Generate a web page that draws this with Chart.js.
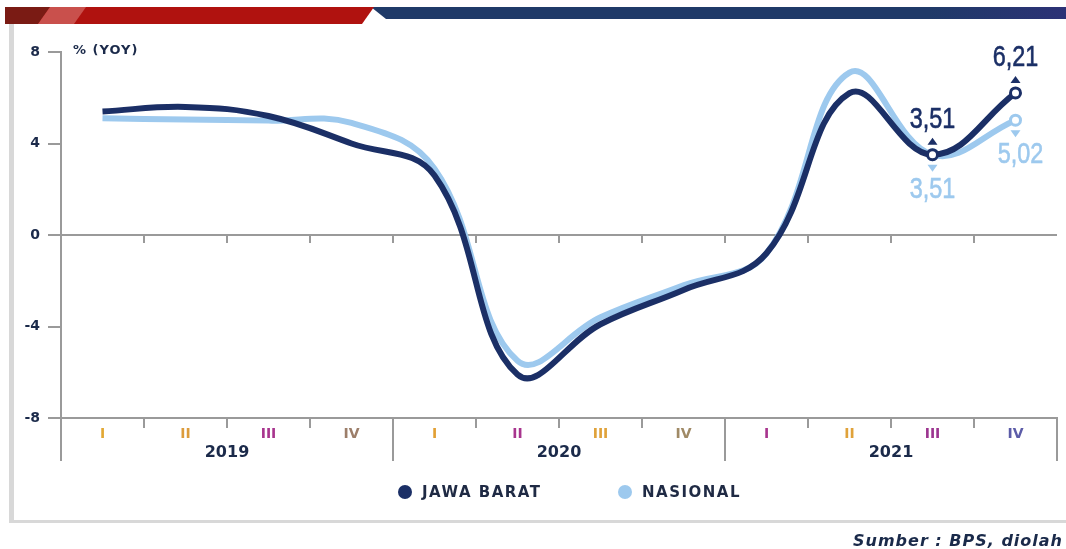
<!DOCTYPE html>
<html>
<head>
<meta charset="utf-8">
<script src="https://cdn.jsdelivr.net/npm/chart.js@4"></script>
<style>
  html, body { margin: 0; padding: 0; background: #fff; }
  #wrap { position: relative; width: 1066px; height: 549px; }
</style>
</head>
<body>
<div id="wrap"><canvas id="growthChart"></canvas></div>
<script>
// data
const quarters = ['I', 'II', 'III', 'IV', 'I', 'II', 'III', 'IV', 'I', 'II', 'III', 'IV'];
const years = ['2019', '2020', '2021'];
const jawaBarat = [5.4, 5.6, 5.2, 4.0, 2.6, -6.1, -3.9, -2.4, -0.8, 6.2, 3.51, 6.21];
const nasional = [5.1, 5.05, 5.0, 4.9, 2.9, -5.5, -3.6, -2.2, -0.8, 7.1, 3.51, 5.02];
const seriesNames = ['JAWA BARAT', 'NASIONAL'];
const labelledPoints = [10, 11];

const navy = '#1b2f66';
const sky = '#9dc9ee';
const axisGrey = '#9a9a9a';
const textDark = '#1b2a4a';
const quarterColors = ['#e2a834', '#dc9c3c', '#a8358e', '#9c7e6a', '#e2a034', '#a8358e', '#e0a23a', '#a08a66', '#a8358e', '#e0a23a', '#9c3590', '#5c5ca8'];

function fmt(v) {
  return v.toFixed(2).replace('.', ',');
}

function narrowText(ctx, txt, x, y, color) {
  ctx.save();
  ctx.translate(x, y);
  ctx.scale(0.78, 1);
  ctx.font = '500 30px "Liberation Sans", Arial, sans-serif';
  ctx.fillStyle = color;
  ctx.strokeStyle = color;
  ctx.lineWidth = 0.6;
  ctx.textAlign = 'center';
  ctx.textBaseline = 'alphabetic';
  ctx.fillText(txt, 0, 0);
  ctx.strokeText(txt, 0, 0);
  ctx.restore();
}

function triangle(ctx, x, y, up, color) {
  ctx.fillStyle = color;
  ctx.beginPath();
  if (up) {
    ctx.moveTo(x, y - 5); ctx.lineTo(x + 5, y + 2); ctx.lineTo(x - 5, y + 2);
  } else {
    ctx.moveTo(x, y + 5); ctx.lineTo(x + 5, y - 2); ctx.lineTo(x - 5, y - 2);
  }
  ctx.closePath();
  ctx.fill();
}

const decor = {
  id: 'decor',
  beforeDraw(chart) {
    const ctx = chart.ctx;
    ctx.save();
    // top banner
    const g = ctx.createLinearGradient(380, 0, 1066, 0);
    g.addColorStop(0, '#1f3a68');
    g.addColorStop(0.8, '#1f3a68');
    g.addColorStop(1, '#2c3276');
    ctx.fillStyle = g;
    ctx.beginPath();
    ctx.moveTo(371, 7); ctx.lineTo(1066, 7); ctx.lineTo(1066, 19); ctx.lineTo(386, 19);
    ctx.closePath(); ctx.fill();
    ctx.fillStyle = '#b0120f';
    ctx.beginPath();
    ctx.moveTo(5, 7); ctx.lineTo(374, 7); ctx.lineTo(362, 24); ctx.lineTo(5, 24);
    ctx.closePath(); ctx.fill();
    ctx.fillStyle = '#7a1b14';
    ctx.beginPath();
    ctx.moveTo(5, 7); ctx.lineTo(50, 7); ctx.lineTo(38, 24); ctx.lineTo(5, 24);
    ctx.closePath(); ctx.fill();
    ctx.fillStyle = '#c9504c';
    ctx.beginPath();
    ctx.moveTo(50, 7); ctx.lineTo(86, 7); ctx.lineTo(74, 24); ctx.lineTo(38, 24);
    ctx.closePath(); ctx.fill();
    // frame
    ctx.fillStyle = '#d8d8d8';
    ctx.fillRect(9, 24, 5, 498);
    ctx.fillRect(9, 520, 1057, 3);
    ctx.restore();
  },
  afterDatasetsDraw(chart) {
    const ctx = chart.ctx;
    const x = chart.scales.x, y = chart.scales.y;
    ctx.save();
    labelledPoints.forEach(i => {
      const px = x.getPixelForValue(i);
      const pj = y.getPixelForValue(jawaBarat[i]);
      const pn = y.getPixelForValue(nasional[i]);
      triangle(ctx, px, pj - 12, true, navy);
      triangle(ctx, px, pn + 12, false, sky);
      narrowText(ctx, fmt(jawaBarat[i]), px, pj - 27, navy);
      const shift = i === 11 ? 5 : 0;
      narrowText(ctx, fmt(nasional[i]), px + shift, pn + (i === 11 ? 43 : 43), sky);
    });
    ctx.restore();
  },
  afterDraw(chart) {
    const ctx = chart.ctx;
    const x = chart.scales.x;
    const area = chart.chartArea;
    const zero = chart.scales.y.getPixelForValue(0);
    ctx.save();
    ctx.strokeStyle = axisGrey;
    ctx.lineWidth = 2;
    // small ticks under the zero line
    for (let i = 1; i < quarters.length; i++) {
      const bx = (x.getPixelForValue(i - 1) + x.getPixelForValue(i)) / 2;
      ctx.beginPath(); ctx.moveTo(bx, zero); ctx.lineTo(bx, zero + 8); ctx.stroke();
    }
    // year separators
    for (let k = 0; k <= years.length; k++) {
      let bx;
      if (k === 0) bx = area.left;
      else if (k === years.length) bx = area.right;
      else bx = (x.getPixelForValue(k * 4 - 1) + x.getPixelForValue(k * 4)) / 2;
      ctx.beginPath(); ctx.moveTo(bx, area.bottom); ctx.lineTo(bx, area.bottom + 43); ctx.stroke();
    }
    // quarter labels
    ctx.textAlign = 'center';
    ctx.textBaseline = 'middle';
    ctx.font = 'bold 14px "DejaVu Sans", sans-serif';
    quarters.forEach((q, i) => {
      ctx.fillStyle = quarterColors[i];
      ctx.fillText(q, x.getPixelForValue(i), area.bottom + 16);
    });
    // year labels
    ctx.font = 'bold 16px "DejaVu Sans", sans-serif';
    ctx.fillStyle = textDark;
    years.forEach((yr, k) => {
      const cx = (x.getPixelForValue(k * 4) + x.getPixelForValue(k * 4 + 3)) / 2;
      ctx.fillText(yr, cx, area.bottom + 35);
    });
    // unit label
    ctx.textAlign = 'left';
    ctx.font = 'bold 13px "DejaVu Sans", sans-serif';
    ctx.letterSpacing = '1px';
    ctx.fillText('% (YOY)', 73, 51);
    // legend
    const legendY = 492;
    const legendX = [405, 625];
    const legendColors = [navy, sky];
    ctx.font = 'bold 15px "DejaVu Sans", sans-serif';
    ctx.letterSpacing = '1.5px';
    seriesNames.forEach((name, k) => {
      ctx.fillStyle = legendColors[k];
      ctx.beginPath(); ctx.arc(legendX[k], legendY, 7, 0, Math.PI * 2); ctx.fill();
      ctx.fillStyle = '#1f2a44';
      ctx.fillText(name, legendX[k] + 17, legendY + 1);
    });
    // source note
    ctx.letterSpacing = '1px';
    ctx.textAlign = 'right';
    ctx.textBaseline = 'alphabetic';
    ctx.font = 'italic bold 16px "DejaVu Sans", sans-serif';
    ctx.fillStyle = '#1a2a4a';
    ctx.fillText('Sumber : BPS, diolah', 1063, 546);
    ctx.restore();
  }
};

const pointR = ctx => (labelledPoints.includes(ctx.dataIndex) ? 5 : 0);

new Chart(document.getElementById('growthChart'), {
  type: 'line',
  data: {
    labels: quarters,
    datasets: [
      {
        label: seriesNames[0],
        data: jawaBarat,
        borderColor: navy,
        borderWidth: 6,
        tension: 0.4,
        pointRadius: pointR,
        pointBackgroundColor: '#fff',
        pointBorderColor: navy,
        pointBorderWidth: 3
      },
      {
        label: seriesNames[1],
        data: nasional,
        borderColor: sky,
        borderWidth: 6,
        tension: 0.4,
        pointRadius: pointR,
        pointBackgroundColor: '#fff',
        pointBorderColor: sky,
        pointBorderWidth: 3
      }
    ]
  },
  options: {
    responsive: true,
    maintainAspectRatio: false,
    animation: false,
    layout: { padding: { top: 52, right: 9, left: 0, bottom: 91 } },
    plugins: {
      legend: { display: false },
      tooltip: { enabled: false }
    },
    scales: {
      x: {
        offset: true,
        ticks: { display: false },
        grid: { offset: true, drawOnChartArea: false, tickLength: 10, color: axisGrey, lineWidth: 2 },
        border: { color: axisGrey, width: 2 },
        afterFit(scale) { scale.height = 40; }
      },
      y: {
        min: -8,
        max: 8,
        ticks: {
          stepSize: 4,
          padding: 8,
          color: textDark,
          font: { family: '"DejaVu Sans", sans-serif', size: 14, weight: 'bold' }
        },
        grid: {
          color: ctx => (ctx.tick && ctx.tick.value === 0 ? axisGrey : 'rgba(0,0,0,0)'),
          tickColor: axisGrey,
          tickLength: 13,
          lineWidth: 2
        },
        border: { color: axisGrey, width: 2 },
        afterFit(scale) { scale.width = 61; }
      }
    }
  },
  plugins: [decor]
});
</script>
</body>
</html>
